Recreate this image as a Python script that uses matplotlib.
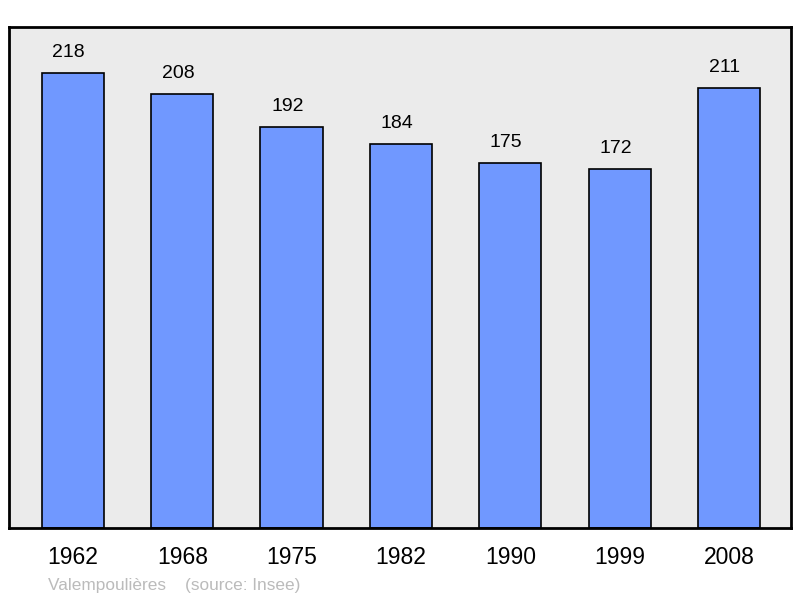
import matplotlib
matplotlib.use("Agg")
import matplotlib.pyplot as plt

years = ["1962", "1968", "1975", "1982", "1990", "1999", "2008"]
population = [218, 208, 192, 184, 175, 172, 211]

plt.rcParams['font.family'] = ['Liberation Sans', 'DejaVu Sans']

fig = plt.figure(figsize=(8, 5.98), dpi=100)
ax = fig.add_axes([9/800, 70/598, 782/800, 501/598])
ax.set_facecolor('#ebebeb')
x = list(range(len(years)))
ax.bar(x, population, width=0.57, color='#7098ff', edgecolor='#000000', linewidth=1.2, zorder=2)
for xi, v in zip(x, population):
    ax.annotate(str(v), (xi, v), xytext=(-3, 11.5), textcoords='offset points',
                ha='center', va='baseline', fontsize=14, color='#000000')
ax.set_xlim(-0.585, 6.567)
ax.set_ylim(0, 240)
ax.set_xticks(x)
ax.set_xticklabels(years, fontsize=16.5)
ax.tick_params(axis='x', length=0, pad=13)
ax.set_yticks([])
for s in ax.spines.values():
    s.set_linewidth(2)
    s.set_color('#000000')
fig.text(48/800, 1 - 590/598, "Valempoulières    (source: Insee)", fontsize=12.4,
         color='#bbbbbb', ha='left', va='baseline')
fig.savefig("out.png", dpi=100)
